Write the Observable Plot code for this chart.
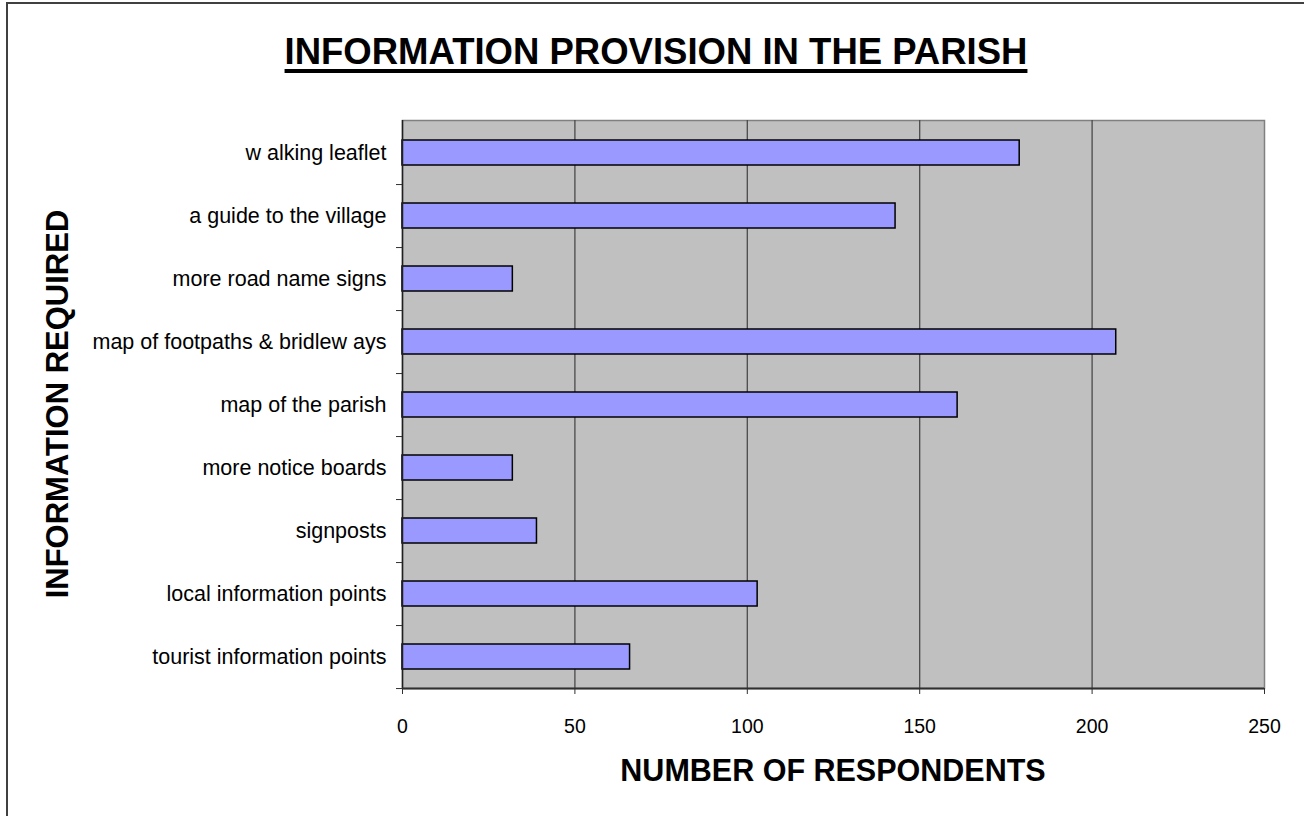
<!DOCTYPE html>
<html>
<head>
<meta charset="utf-8">
<script src="https://cdn.jsdelivr.net/npm/d3@7"></script>
<script src="https://cdn.jsdelivr.net/npm/@observablehq/plot@0.6"></script>
<style>
  html, body { margin: 0; padding: 0; background: #fff; overflow: hidden; }
  #wrap { position: relative; width: 1304px; height: 816px; font-family: "Liberation Sans", Arial, sans-serif; }
  #border { position: absolute; left: 6px; top: 2px; width: 1400px; height: 900px; border: 2px solid #404040; box-sizing: border-box; }
  #title { position: absolute; left: 0; width: 1312px; top: 31px; text-align: center; font-size: 36.5px; font-weight: bold; text-decoration: underline; text-decoration-thickness: 4px; text-underline-offset: 5px; color: #000; }
  #xlabel { position: absolute; left: 402px; width: 862px; top: 753px; text-align: center; font-size: 30.5px; font-weight: bold; color: #000; }
  #ylabel { position: absolute; left: 58px; top: 404px; transform: translate(-50%, -50%) rotate(-90deg); white-space: nowrap; font-size: 31px; font-weight: bold; color: #000; }
  #chart { position: absolute; left: 0; top: 0; }
</style>
</head>
<body>
<div id="wrap">
  <div id="border"></div>
  <div id="chart"></div>
  <div id="title">INFORMATION PROVISION IN THE PARISH</div>
  <div id="xlabel">NUMBER OF RESPONDENTS</div>
  <div id="ylabel">INFORMATION REQUIRED</div>
</div>
<script>
const categories = [
  "w alking leaflet",
  "a guide to the village",
  "more road name signs",
  "map of footpaths & bridlew ays",
  "map of the parish",
  "more notice boards",
  "signposts",
  "local information points",
  "tourist information points"
];
const respondents = [179, 143, 32, 207, 161, 32, 39, 103, 66];
const xTicks = [0, 50, 100, 150, 200, 250];
const gridTicks = [50, 100, 150, 200];

const data = categories.map((c, i) => ({category: c, value: respondents[i]}));

const W = 1304, H = 816;
const mLeft = 402, mRight = 40, mTop = 120, mBottom = 128;
const bw = (H - mTop - mBottom) / categories.length;

const chart = Plot.plot({
  width: W,
  height: H,
  marginLeft: mLeft,
  marginRight: mRight,
  marginTop: mTop,
  marginBottom: mBottom,
  style: {fontFamily: "'Liberation Sans', Arial, sans-serif", fontSize: "19px", color: "#000", background: "transparent"},
  x: {domain: [0, 250], axis: null},
  y: {domain: categories, padding: 0, axis: null},
  marks: [
    Plot.frame({fill: "#C0C0C0", stroke: "#808080", strokeWidth: 1.5}),
    Plot.ruleX(gridTicks, {stroke: "#4a4a4a", strokeWidth: 1.3}),
    Plot.barX(data, {y: "category", x: "value", fill: "#9999FF", stroke: "#000", strokeWidth: 1.5, insetTop: 19, insetBottom: 19}),
    Plot.ruleX([0], {stroke: "#202020", strokeWidth: 1.5}),
    Plot.ruleY([categories[categories.length - 1]], {dy: bw / 2, stroke: "#303030", strokeWidth: 2}),
    Plot.axisX({ticks: xTicks, tickSize: 6, tickPadding: 25, tickFormat: d => String(d), stroke: "#303030", fill: "#000", fontSize: 19.5, label: null}),
    Plot.axisY({tickSize: 0, tickPadding: 16, fill: "#000", fontSize: 21.5, label: null}),
    Plot.axisY({tickSize: 6, tickFormat: () => "", dy: bw / 2, stroke: "#303030", label: null})
  ]
});
document.getElementById("chart").appendChild(chart);
</script>
</body>
</html>
